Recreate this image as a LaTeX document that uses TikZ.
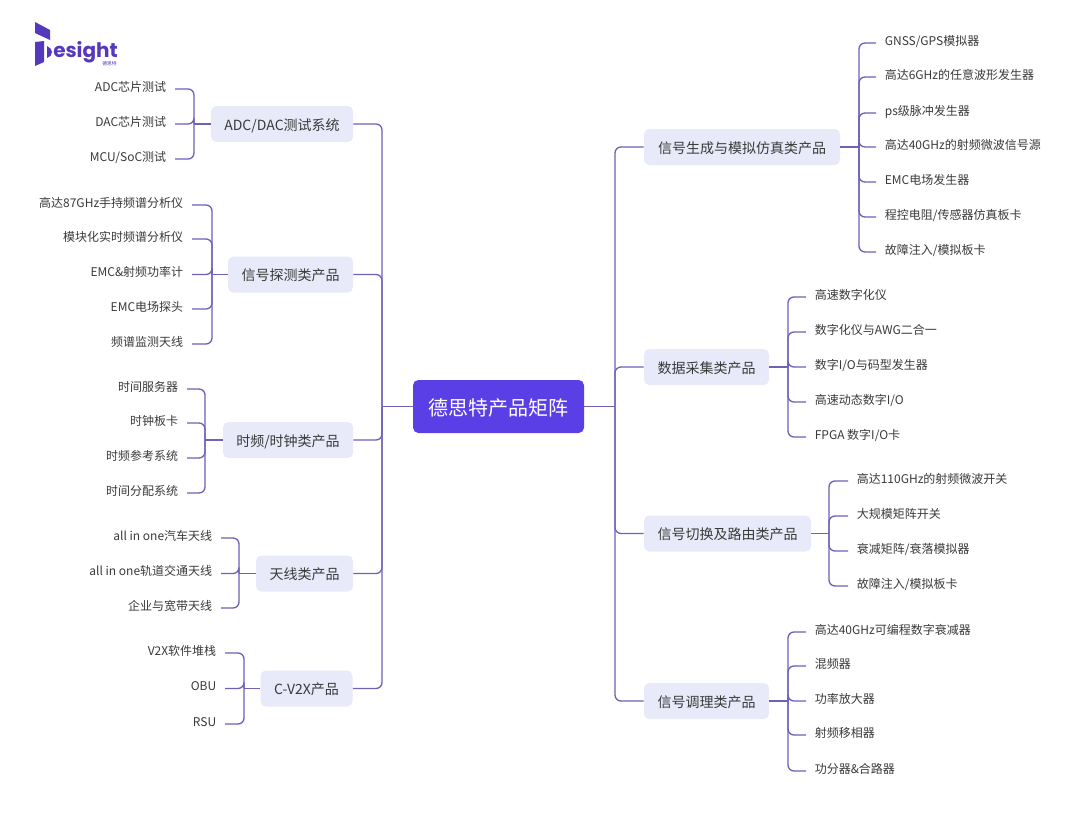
\documentclass[tikz,border=0pt]{standalone}
\usepackage{fontspec}
\setmainfont{Noto Sans CJK SC}
\newfontfamily\logofont{Poppins}
\definecolor{linec}{HTML}{6F60B8}
\definecolor{boxc}{HTML}{E8EAF9}
\definecolor{rootc}{HTML}{5B3FE6}
\definecolor{textc}{HTML}{3A3A3A}
\definecolor{logoc}{HTML}{5638BE}
\tikzset{
  conn/.style={draw=linec,line width=1pt,rounded corners=4.5pt},
  stem/.style={draw=linec,line width=1pt},
  branch/.style={fill=boxc,rounded corners=4pt,text=textc,font=\fontsize{10.5pt}{12pt}\selectfont,minimum height=36*0.75pt,inner sep=0pt,text height=10.5pt,text depth=1pt},
  rootbox/.style={fill=rootc,rounded corners=4pt,text=white,font=\fontsize{15pt}{18pt}\selectfont,inner sep=0pt,minimum width=171*0.75pt,minimum height=53*0.75pt,text height=14.5pt,text depth=1.6pt},
  leaf/.style={text=textc,font=\fontsize{9pt}{11pt}\selectfont,inner xsep=6.4pt,inner ysep=0pt,text height=7pt,text depth=3.4pt},
  lleaf/.style={leaf,anchor=east},
  rleaf/.style={leaf,anchor=west}
}
\begin{document}
\begin{tikzpicture}[x=0.75pt,y=-0.75pt]
\useasboundingbox[fill=white] (0,0) rectangle (1080,814);
% logo
\fill[logoc] (35,22) -- (50,30) -- (50,40) -- (35,33) -- cycle;
\fill[logoc] (35,42) -- (44,41) -- (44,62) -- (35,66) -- cycle;
\fill[logoc] (47,46) .. controls (50,47) and (52,50) .. (52,52) .. controls (52,55) and (50,57) .. (47,58) -- cycle;
\node[anchor=base west,inner sep=0pt,text depth=0pt,text=logoc,font=\logofont\bfseries\fontsize{15pt}{18pt}\selectfont] (logo) at (53,57) {esight};
\node[anchor=east,inner sep=0pt,text=logoc,font=\fontsize{3.6pt}{4pt}\selectfont] (logosub) at (117,63.5) {德思特};
% root
\node[rootbox] (root) at (498.5,406.5) {德思特产品矩阵};
% trunks
\coordinate (tl) at (382,0);
\coordinate (tr) at (615,0);
% left branches
\node[branch,minimum width=142*0.75pt] (b1) at (282,124) {ADC/DAC测试系统};
\node[branch,minimum width=125*0.75pt] (b2) at (290.5,274.5) {信号探测类产品};
\node[branch,minimum width=130*0.75pt] (b3) at (288,440) {时频/时钟类产品};
\node[branch,minimum width=97*0.75pt] (b4) at (304.5,573.5) {天线类产品};
\node[branch,minimum width=92*0.75pt] (b5) at (306.5,688.5) {C-V2X产品};
% right branches
\node[branch,minimum width=196*0.75pt] (r1) at (742,147) {信号生成与模拟仿真类产品};
\node[branch,minimum width=125*0.75pt] (r2) at (706.5,367) {数据采集类产品};
\node[branch,minimum width=167*0.75pt] (r3) at (727.5,533.5) {信号切换及路由类产品};
\node[branch,minimum width=125*0.75pt] (r4) at (706.5,701) {信号调理类产品};
% left leaves
\node[lleaf] (a1) at (175,89) {ADC芯片测试};
\node[lleaf] (a2) at (175,124) {DAC芯片测试};
\node[lleaf] (a3) at (175,159) {MCU/SoC测试};
\node[lleaf] (c1) at (192,205) {高达87GHz手持频谱分析仪};
\node[lleaf] (c2) at (192,239) {模块化实时频谱分析仪};
\node[lleaf] (c3) at (192,274.5) {EMC\&射频功率计};
\node[lleaf] (c4) at (192,309) {EMC电场探头};
\node[lleaf] (c5) at (192,344) {频谱监测天线};
\node[lleaf] (d1) at (187,389) {时间服务器};
\node[lleaf] (d2) at (187,423) {时钟板卡};
\node[lleaf] (d3) at (187,458) {时频参考系统};
\node[lleaf] (d4) at (187,493) {时间分配系统};
\node[lleaf] (e1) at (221,538) {all in one汽车天线};
\node[lleaf] (e2) at (221,573.5) {all in one轨道交通天线};
\node[lleaf] (e3) at (221,608) {企业与宽带天线};
\node[lleaf] (f1) at (225,653) {V2X软件堆栈};
\node[lleaf] (f2) at (225,688.5) {OBU};
\node[lleaf] (f3) at (225,724) {RSU};
% right leaves
\node[rleaf] (g1) at (876,43) {GNSS/GPS模拟器};
\node[rleaf] (g2) at (876,77) {高达6GHz的任意波形发生器};
\node[rleaf] (g3) at (876,113) {ps级脉冲发生器};
\node[rleaf] (g4) at (876,147) {高达40GHz的射频微波信号源};
\node[rleaf] (g5) at (876,182) {EMC电场发生器};
\node[rleaf] (g6) at (876,217) {程控电阻/传感器仿真板卡};
\node[rleaf] (g7) at (876,252) {故障注入/模拟板卡};
\node[rleaf] (h1) at (806,297) {高速数字化仪};
\node[rleaf] (h2) at (806,332) {数字化仪与AWG二合一};
\node[rleaf] (h3) at (806,367) {数字I/O与码型发生器};
\node[rleaf] (h4) at (806,402) {高速动态数字I/O};
\node[rleaf] (h5) at (806,437) {FPGA 数字I/O卡};
\node[rleaf] (i1) at (848,481) {高达110GHz的射频微波开关};
\node[rleaf] (i2) at (848,516) {大规模矩阵开关};
\node[rleaf] (i3) at (848,551) {衰减矩阵/衰落模拟器};
\node[rleaf] (i4) at (848,586) {故障注入/模拟板卡};
\node[rleaf] (j1) at (806,632) {高达40GHz可编程数字衰减器};
\node[rleaf] (j2) at (806,666) {混频器};
\node[rleaf] (j3) at (806,701) {功率放大器};
\node[rleaf] (j4) at (806,735) {射频移相器};
\node[rleaf] (j5) at (806,771) {功分器\&合路器};
% leaf trunks
\coordinate (tb1) at (194,0);
\coordinate (tb2) at (212,0);
\coordinate (tb3) at (205,0);
\coordinate (tb4) at (239,0);
\coordinate (tb5) at (244,0);
\coordinate (tr1) at (859,0);
\coordinate (tr2) at (788,0);
\coordinate (tr3) at (829,0);
\coordinate (tr4) at (788,0);
% connectors: root to branches
\draw[stem] (root.west) -- (tl |- root.west);
\draw[stem] (root.east) -- (tr |- root.east);
\foreach \b in {b1,b2,b3,b4,b5}
  \draw[conn] (tl |- root.west) |- (\b.east);
\foreach \b in {r1,r2,r3,r4}
  \draw[conn] (tr |- root.east) |- (\b.west);
% connectors: branches to leaves
\draw[stem] (b1.west) -- (tb1 |- b1.west);
\foreach \l in {a1,a2,a3}
  \draw[conn] (tb1 |- b1.west) |- (\l.east);
\draw[stem] (b2.west) -- (tb2 |- b2.west);
\foreach \l in {c1,c2,c3,c4,c5}
  \draw[conn] (tb2 |- b2.west) |- (\l.east);
\draw[stem] (b3.west) -- (tb3 |- b3.west);
\foreach \l in {d1,d2,d3,d4}
  \draw[conn] (tb3 |- b3.west) |- (\l.east);
\draw[stem] (b4.west) -- (tb4 |- b4.west);
\foreach \l in {e1,e2,e3}
  \draw[conn] (tb4 |- b4.west) |- (\l.east);
\draw[stem] (b5.west) -- (tb5 |- b5.west);
\foreach \l in {f1,f2,f3}
  \draw[conn] (tb5 |- b5.west) |- (\l.east);
\draw[stem] (r1.east) -- (tr1 |- r1.east);
\foreach \l in {g1,g2,g3,g4,g5,g6,g7}
  \draw[conn] (tr1 |- r1.east) |- (\l.west);
\draw[stem] (r2.east) -- (tr2 |- r2.east);
\foreach \l in {h1,h2,h3,h4,h5}
  \draw[conn] (tr2 |- r2.east) |- (\l.west);
\draw[stem] (r3.east) -- (tr3 |- r3.east);
\foreach \l in {i1,i2,i3,i4}
  \draw[conn] (tr3 |- r3.east) |- (\l.west);
\draw[stem] (r4.east) -- (tr4 |- r4.east);
\foreach \l in {j1,j2,j3,j4,j5}
  \draw[conn] (tr4 |- r4.east) |- (\l.west);
\end{tikzpicture}
\end{document}
